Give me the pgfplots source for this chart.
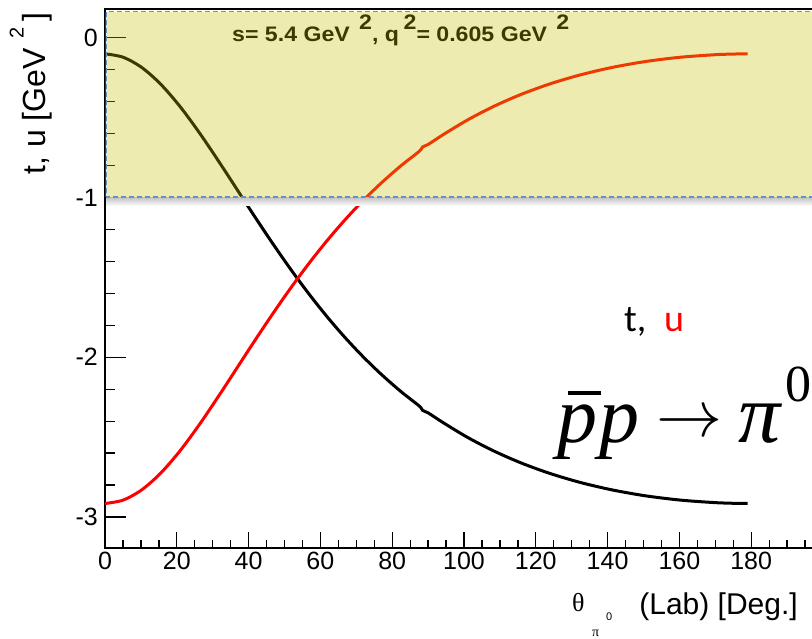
\documentclass[border=0pt]{standalone}
\usepackage{fontspec}
\setmainfont{Liberation Sans}
\newfontfamily\serifrm{Liberation Serif}
\newfontfamily\carlito{Carlito}
\usepackage{graphicx}
\usepackage{pgfplots}
\pgfplotsset{compat=1.18}
\definecolor{ovl}{RGB}{197,190,0}
\definecolor{dashblue}{RGB}{95,145,210}
\newcommand{\fs}[1]{\fontsize{#1}{#1}\selectfont}
\begin{document}
\begin{tikzpicture}
\useasboundingbox (0,0) rectangle (812pt,638pt);
\begin{axis}[
  at={(105pt,90pt)}, anchor=south west,
  scale only axis, width=708.3pt, height=539pt,
  xmin=0, xmax=197.3, ymin=-3.194, ymax=0.18,
  axis line style={line width=2pt},
  xtick={0,20,...,180},
  minor xtick={5,10,15,25,30,35,45,50,55,65,70,75,85,90,95,105,110,115,125,130,135,145,150,155,165,170,175,185,190,195},
  ytick={-3,-2,-1,0},
  yticklabels={-3,-2,-1,0},
  minor ytick={-2.8,-2.6,-2.4,-2.2,-1.8,-1.6,-1.4,-1.2,-0.8,-0.6,-0.4,-0.2},
  tick align=inside,
  xtick pos=bottom, ytick pos=left,
  tick style={black, line width=1.3pt},
  major tick length=16pt, minor tick length=8pt,
  ytick style={/pgfplots/major tick length=21pt,/pgfplots/minor tick length=10pt},
  /pgf/number format/assume math mode=true,
  xticklabel style={font=\fs{25}, inner sep=0pt, yshift=-4pt},
  yticklabel style={font=\fs{25}, inner sep=0pt, xshift=-7pt},
]
\addplot[black, line width=3pt, smooth] table {
0      -0.1006
5.07   -0.1220
10.20  -0.1855
15.45  -0.2892
20.88  -0.4299
26.56  -0.6034
32.57  -0.8043
39.00  -1.0267
42.42  -1.1438
45.98  -1.2636
49.71  -1.3854
53.62  -1.5080
57.74  -1.6307
62.09  -1.7524
66.69  -1.8723
71.57  -1.9894
76.76  -2.1028
82.27  -2.2117
87.50  -2.3046
88.50  -2.3330
90.00  -2.3480
94.43  -2.4127
101.12 -2.5032
108.25 -2.5861
115.83 -2.6609
123.88 -2.7269
132.38 -2.7836
141.30 -2.8305
150.61 -2.8675
160.22 -2.8940
170.05 -2.9101
176.01 -2.9146
179.00 -2.9153
};
\addplot[red, line width=3pt, smooth] table {
0      -2.9155
5.07   -2.8941
10.20  -2.8306
15.45  -2.7269
20.88  -2.5862
26.56  -2.4127
32.57  -2.2118
39.00  -1.9894
42.42  -1.8723
45.98  -1.7525
49.71  -1.6307
53.62  -1.5081
57.74  -1.3854
62.09  -1.2637
66.69  -1.1438
71.57  -1.0267
76.76  -0.9133
82.27  -0.8044
87.50  -0.7115
88.50  -0.6830
90.00  -0.6680
94.43  -0.6034
101.12 -0.5129
108.25 -0.4300
115.83 -0.3552
123.88 -0.2892
132.38 -0.2325
141.30 -0.1856
150.61 -0.1486
160.22 -0.1221
170.05 -0.1060
176.01 -0.1015
179.00 -0.1008
};
\end{axis}
% title inside the highlighted band
\node[anchor=base west, inner sep=0pt] at (232pt,596pt)
  {\resizebox{337pt}{\height}{\bfseries\fs{21}s= 5.4 GeV\hspace{0.4em}\raisebox{0.6em}{2}, q\hspace{0.2em}\raisebox{0.6em}{2}= 0.605 GeV\hspace{0.4em}\raisebox{0.6em}{2}}};
% highlight band
\shade[top color=black!22, bottom color=white] (106pt,432pt) rectangle (814pt,440pt);
\fill[ovl, fill opacity=0.31] (105pt,440.7pt) rectangle (814pt,626.3pt);
\draw[dashblue, line width=1.6pt, dash pattern=on 5pt off 3pt] (814pt,440.7pt) -- (106.3pt,440.7pt) -- (106.3pt,626.3pt) -- (814pt,626.3pt);
% axis titles
\node[rotate=90, anchor=base east, inner sep=0pt] at (46pt,626pt)
  {\fs{32}t, u [GeV\hspace{0.3em}\raisebox{0.7em}{\fs{20}2}\hspace{0.2em}]};
\node[anchor=base east, inner sep=0pt] at (798pt,24pt) {\fs{30}(Lab) [Deg.]};
\node[anchor=base west, inner sep=0pt] at (572pt,27pt) {\serifrm\fs{26}θ};
\node[anchor=base west, inner sep=0pt] at (592pt,2pt) {\serifrm\fs{14}π};
\node[anchor=base west, inner sep=0pt] at (606pt,18pt) {\fs{11}0};
% annotations
\node[anchor=base west, inner sep=0pt] at (624pt,306pt) {\carlito\fs{38}t,};
\node[anchor=base west, inner sep=0pt, text=red] at (664pt,306pt) {\carlito\fs{38}u};
\node[anchor=base west, inner sep=0pt] at (557pt,195pt)
  {\serifrm\fs{80}\rlap{\hspace{0.13em}\raisebox{0.6em}{\rule{0.42em}{0.045em}}}\itshape p\hspace{0.03em}p};
\node[anchor=base west, inner sep=0pt] at (656pt,201.5pt) {\scalebox{6.6}{$\rightarrow$}};
\node[anchor=base west, inner sep=0pt] at (738pt,195pt) {\serifrm\fs{84}\itshape π};
\node[anchor=base west, inner sep=0pt] at (785pt,236pt) {\serifrm\fs{52}0};
\end{tikzpicture}
\end{document}
